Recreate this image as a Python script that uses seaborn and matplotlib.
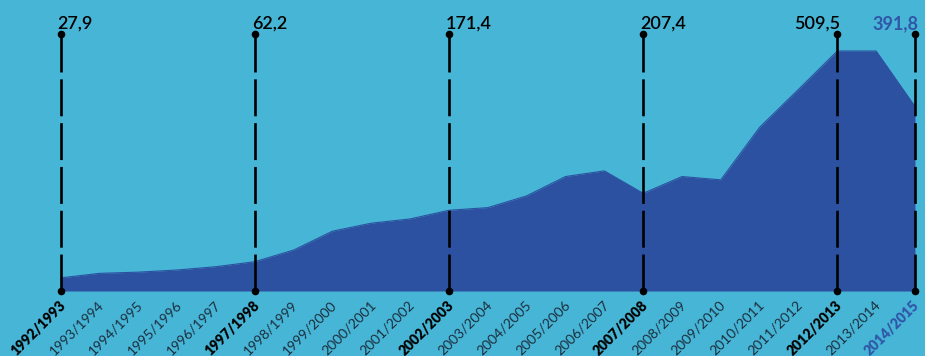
import matplotlib
matplotlib.use("Agg")
import matplotlib.pyplot as plt
import seaborn as sns
import pandas as pd
import numpy as np

seasons = ["1992/1993", "1993/1994", "1994/1995", "1995/1996", "1996/1997",
           "1997/1998", "1998/1999", "1999/2000", "2000/2001", "2001/2002",
           "2002/2003", "2003/2004", "2004/2005", "2005/2006", "2006/2007",
           "2007/2008", "2008/2009", "2009/2010", "2010/2011", "2011/2012",
           "2012/2013", "2013/2014", "2014/2015"]
values = [27.9, 37.5, 40.0, 44.6, 51.6,
          62.2, 87.0, 127.0, 144.0, 153.0,
          171.4, 177.0, 202.0, 243.0, 255.0,
          207.4, 243.0, 236.0, 347.5, 428.0,
          509.5, 509.5, 391.8]
highlight_seasons = ["1992/1993", "1997/1998", "2002/2003", "2007/2008", "2012/2013", "2014/2015"]
highlight_labels = ["27,9", "62,2", "171,4", "207,4", "509,5", "391,8"]

BG = "#47b5d6"
AREA = "#2c51a0"
LABEL_BLUE = "#2f56a8"

sns.set_theme(style="white")
plt.rcParams["font.family"] = ["Lato", "DejaVu Sans"]

df = pd.DataFrame({"season": seasons, "value": values, "pos": np.arange(len(seasons))})

fig = plt.figure(figsize=(9.25, 3.56), dpi=100)
fig.patch.set_facecolor(BG)
ax = fig.add_axes([0, 0, 1, 1])
ax.set_facecolor(BG)

# pixel mapping
x0px, step = 60.7, 38.83
base_px, ppu = 291.0, 0.47105
W, H = 925, 356
ax.set_xlim(-x0px / step, (W - x0px) / step)
ax.set_ylim(-(H - base_px) / ppu, base_px / ppu)

def ypx(p):
    return (base_px - p) / ppu

ax.fill_between(df["pos"], 0, df["value"], color=AREA, linewidth=0, zorder=1)
sns.lineplot(data=df, x="pos", y="value", color=AREA, linewidth=0.8, ax=ax, zorder=1)

top_y = ypx(34)
for s, lab in zip(highlight_seasons, highlight_labels):
    i = seasons.index(s)
    last = (s == seasons[-1])
    ax.plot([i, i], [0, top_y], color="black", linewidth=1.9,
            linestyle=(0, (14, 2.6)), zorder=3, solid_capstyle="butt", dash_capstyle="butt")
    ax.scatter([i, i], [0, top_y], s=30, color="black", zorder=4, linewidths=0)
    if s in ("2012/2013", "2014/2015"):
        ax.text(i + 0.08, ypx(29), lab, ha="right", va="baseline", fontsize=13,
                fontweight="bold" if last else "semibold",
                color=LABEL_BLUE if last else "black", zorder=5)
    else:
        ax.text(i - 0.08, ypx(29), lab, ha="left", va="baseline", fontsize=13,
                fontweight="semibold", color="black", zorder=5)

# tick labels
for i, s in enumerate(seasons):
    if s == seasons[-1]:
        kw = dict(fontweight="heavy", color=LABEL_BLUE)
    elif s in highlight_seasons:
        kw = dict(fontweight="heavy", color="black")
    else:
        kw = dict(fontweight="normal", color="#1b2d3c")
    ax.text(i + 0.06, ypx(303), s, rotation=45, rotation_mode="anchor",
            ha="right", va="center", fontsize=10, **kw)

ax.axis("off")
ax.set_xlabel("")
ax.set_ylabel("")
fig.savefig("out.png", dpi=100, facecolor=BG)
